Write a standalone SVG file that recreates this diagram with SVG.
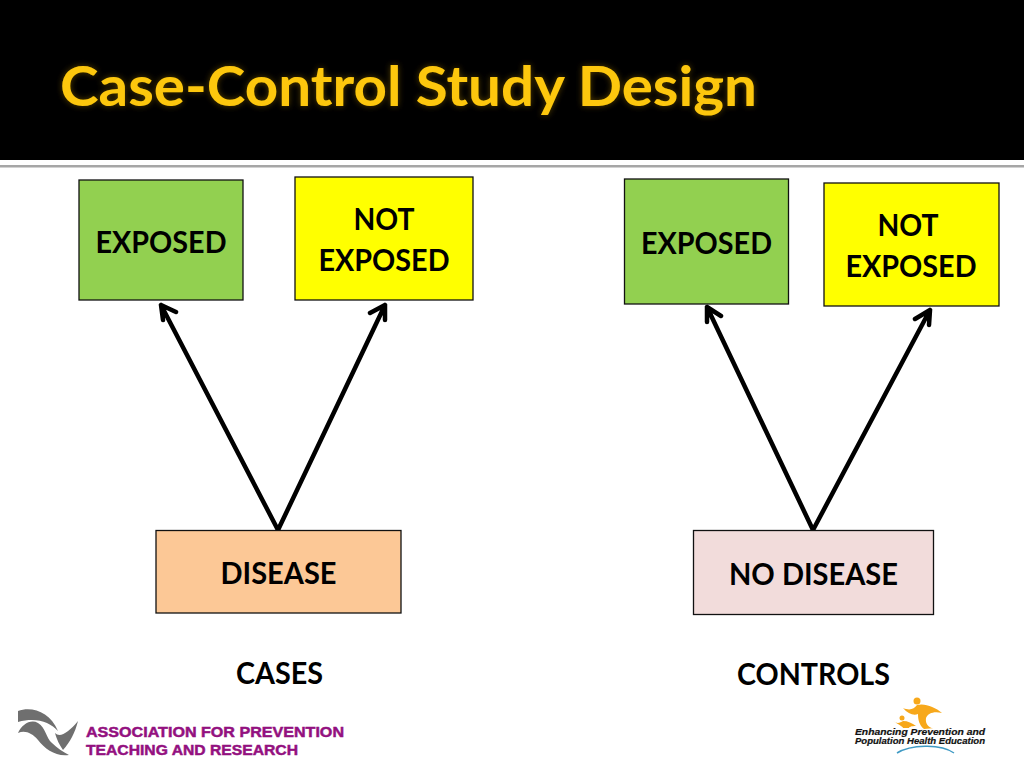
<svg xmlns="http://www.w3.org/2000/svg" width="1024" height="768" viewBox="0 0 1024 768">
<style>
.box{stroke:#111;stroke-width:1.3}
.lbl{font-family:Lato,"Open Sans",sans-serif;font-weight:700;font-size:30px;fill:#000;text-anchor:middle}
.arrow{fill:none;stroke:#000;stroke-width:4.500;stroke-linecap:round;stroke-linejoin:round}
.apt{font-family:"Liberation Sans",Arial,sans-serif;font-weight:700;font-size:15.500px;fill:#93107f;stroke:#93107f;stroke-width:.5}
.ep{font-family:"Liberation Sans",Arial,sans-serif;font-weight:700;font-style:italic;font-size:8.800px;fill:#111;stroke:#111;stroke-width:.2}
</style>
<defs>
<filter id="glow" x="-5%" y="-20%" width="110%" height="140%"><feDropShadow dx="0" dy="0" stdDeviation="3" flood-color="#7a5a00" flood-opacity=".7"/></filter>
</defs>
<rect width="1024" height="768" fill="#fff"/>
<g id="header">
<rect width="1024" height="160" fill="#000"/>
<rect y="160" width="1024" height="5" fill="#fff"/>
<rect y="165" width="1024" height="2.500" fill="#a6a6a6"/>
<text x="60" y="106" font-family="Lato,'Open Sans',sans-serif" font-weight="700" font-size="56" fill="#fdc70c" textLength="697" lengthAdjust="spacingAndGlyphs" filter="url(#glow)">Case-Control Study Design</text>
</g>
<g id="connectors">
<path class="arrow" d="M278 530L161 305M163 320L161 305L176 312"/>
<path class="arrow" d="M278 530L385 305M370 313L385 305L385 320"/>
<path class="arrow" d="M813 530L707 307M707 322L707 307L721 316"/>
<path class="arrow" d="M813 530L930 310M915 319L930 310L929 325"/>
</g>
<g id="n-exposed-1"><rect class="box" x="79" y="180" width="164" height="120" fill="#92d050"/><text class="lbl" x="161" y="253" textLength="131" lengthAdjust="spacingAndGlyphs">EXPOSED</text></g>
<g id="n-not-exposed-1"><rect class="box" x="295" y="177" width="178" height="123" fill="#ffff00"/><text class="lbl" x="384" y="230" textLength="61" lengthAdjust="spacingAndGlyphs">NOT</text><text class="lbl" x="384" y="271" textLength="131" lengthAdjust="spacingAndGlyphs">EXPOSED</text></g>
<g id="n-exposed-2"><rect class="box" x="624.500" y="179" width="164" height="125" fill="#92d050"/><text class="lbl" x="706.500" y="253.500" textLength="131" lengthAdjust="spacingAndGlyphs">EXPOSED</text></g>
<g id="n-not-exposed-2"><rect class="box" x="824" y="183" width="175" height="123" fill="#ffff00"/><text class="lbl" x="908" y="236" textLength="61" lengthAdjust="spacingAndGlyphs">NOT</text><text class="lbl" x="911" y="277" textLength="131" lengthAdjust="spacingAndGlyphs">EXPOSED</text></g>
<g id="n-disease"><rect class="box" x="156" y="530.500" width="245" height="82.500" fill="#fcc896"/><text class="lbl" x="278.500" y="584" textLength="116" lengthAdjust="spacingAndGlyphs">DISEASE</text></g>
<g id="n-no-disease"><rect class="box" x="693.500" y="530.500" width="240" height="84" fill="#f2dcdb"/><text class="lbl" x="813.500" y="584.500" textLength="169" lengthAdjust="spacingAndGlyphs">NO DISEASE</text></g>
<g id="n-cases"><text class="lbl" x="279.500" y="684" textLength="87" lengthAdjust="spacingAndGlyphs">CASES</text></g>
<g id="n-controls"><text class="lbl" x="813.500" y="684.500" textLength="153" lengthAdjust="spacingAndGlyphs">CONTROLS</text></g>
<g id="logo-aptr">
<path fill="#6f6f6f" d="M18 711C32 706 50 712 58 731C50 722 36 717 18 722Z"/>
<path fill="#6f6f6f" d="M18 733C22 724 31 719 38 723C46 728 46 738 52 743C57 748 63 752 69 755C56 757 45 749 38 740C32 733 25 730 18 733Z"/>
<path fill="#6f6f6f" d="M78 721C75 733 70 742 63 750C59 744 57 740 55 733C60 738 68 733 78 721Z"/>
<text class="apt" x="86" y="737" textLength="258" lengthAdjust="spacingAndGlyphs">ASSOCIATION FOR PREVENTION</text>
<text class="apt" x="86" y="755" textLength="212" lengthAdjust="spacingAndGlyphs">TEACHING AND RESEARCH</text>
</g>
<g id="logo-ephe">
<circle cx="917" cy="701" r="3.500" fill="#f7a81b"/>
<path fill="#f7a81b" d="M903 708C910 711 914 709 917 705C925 703 935 707 942 713C934 711 928 713 926 718C925 724 929 729 935 728L924 729C919 725 918 719 918 714C914 716 908 714 903 708Z"/>
<circle cx="902" cy="718" r="2.500" fill="#f7a81b"/>
<path fill="#f7a81b" d="M893 721C897 724 900 723 903 721C908 721 912 723 916 726C911 726 909 727 909 728H903C903 727 900 725 893 721Z"/>
<text class="ep" x="855" y="735" textLength="130" lengthAdjust="spacingAndGlyphs">Enhancing Prevention and</text>
<text class="ep" x="855" y="744" textLength="130" lengthAdjust="spacingAndGlyphs">Population Health Education</text>
<path fill="none" stroke="#3f9ac4" stroke-width="1.500" d="M897 753C910 745 940 743 954 753"/>
</g>
</svg>
